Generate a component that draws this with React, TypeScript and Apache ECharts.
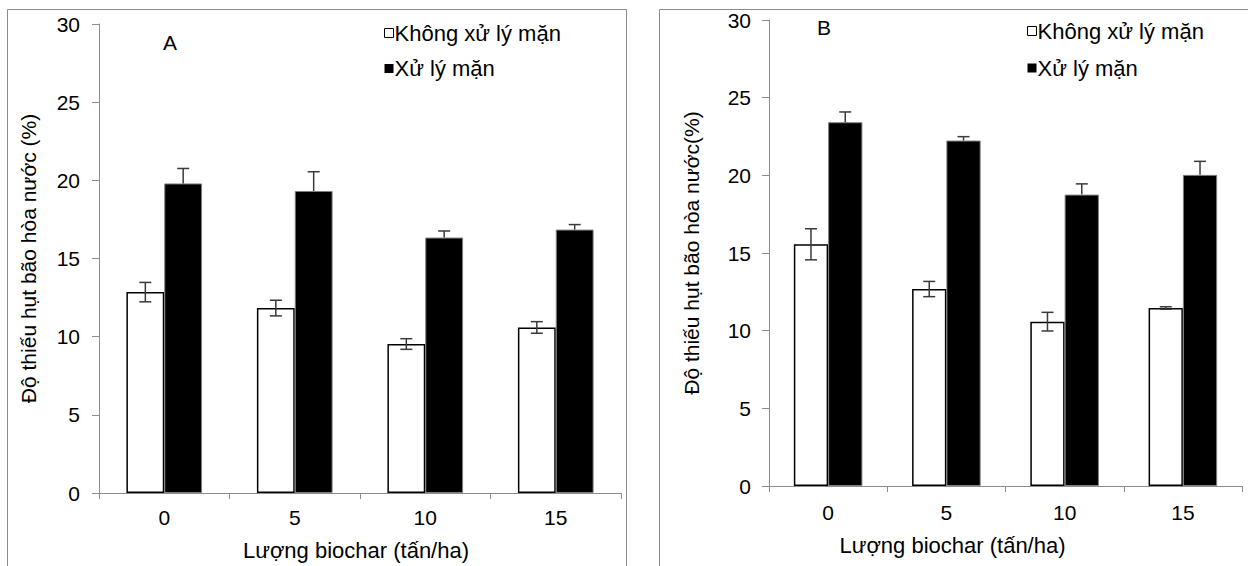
import React, { useEffect, useRef } from "react";
import * as echarts from "echarts";

const categories = ["0", "5", "10", "15"];
const seriesNames = ["Không xử lý mặn", "Xử lý mặn"];

// Panel A
const aControl = [12.85, 11.83, 9.53, 10.59];
const aControlErr = [0.62, 0.5, 0.34, 0.37];
const aSalt = [19.8, 19.32, 16.34, 16.85];
const aSaltErr = [0.96, 1.23, 0.42, 0.32];

// Panel B
const bControl = [15.56, 12.68, 10.58, 11.46];
const bControlErr = [1.0, 0.49, 0.6, 0.08];
const bSalt = [23.42, 22.24, 18.76, 20.03];
const bSaltErr = [0.66, 0.25, 0.69, 0.87];

const yTicks = [0, 5, 10, 15, 20, 25, 30];

const FONT = "Liberation Sans, Arial, sans-serif";
const BAR_RATIO = 0.29;

function errSeries(gridIdx: number, values: number[], errs: number[], side: number, both: boolean) {
  return {
    type: "custom",
    xAxisIndex: gridIdx,
    yAxisIndex: gridIdx,
    z: 5,
    silent: true,
    encode: { x: 0, y: 1 },
    data: values.map((v, i) => [i, v, errs[i]]),
    renderItem: (params: any, api: any) => {
      const idx = api.value(0);
      const v = api.value(1);
      const e = api.value(2);
      const catW = api.size([1, 0])[0];
      const off = (catW * BAR_RATIO) / 2 * side;
      const base = api.coord([idx, v]);
      const x = base[0] + off;
      const yTop = api.coord([idx, v + e])[1];
      const yBot = both ? api.coord([idx, v - e])[1] : base[1];
      const cap = 6;
      const st = { stroke: "#3a3a3a", lineWidth: 1.5 };
      const children: any[] = [
        { type: "line", shape: { x1: x, y1: yTop, x2: x, y2: yBot }, style: st },
        { type: "line", shape: { x1: x - cap, y1: yTop, x2: x + cap, y2: yTop }, style: st },
      ];
      if (both) {
        children.push({ type: "line", shape: { x1: x - cap, y1: yBot, x2: x + cap, y2: yBot }, style: st });
      }
      return { type: "group", children };
    },
  };
}

function barSeries(gridIdx: number, name: string, values: number[], black: boolean) {
  return {
    type: "bar",
    name,
    xAxisIndex: gridIdx,
    yAxisIndex: gridIdx,
    data: values,
    barWidth: BAR_RATIO * 100 + "%",
    barGap: "0%",
    itemStyle: black
      ? { color: "#000000", borderColor: "#808080", borderWidth: 1 }
      : { color: "#ffffff", borderColor: "#000000", borderWidth: 1.5 },
  };
}

function xAxis(gridIdx: number, nameGap: number, labelMargin: number, namePad: number[]) {
  return {
    type: "category",
    gridIndex: gridIdx,
    data: categories,
    name: "Lượng biochar (tấn/ha)",
    nameLocation: "middle",
    nameGap,
    nameTextStyle: { fontFamily: FONT, fontSize: 22, color: "#000", padding: namePad },
    axisLine: { lineStyle: { color: "#8c8c8c", width: 1 } },
    axisTick: { show: true, length: 6, lineStyle: { color: "#8c8c8c" } },
    axisLabel: { fontFamily: FONT, fontSize: 21, color: "#000", margin: labelMargin },
    splitLine: { show: false },
  };
}

function yAxis(gridIdx: number, name: string, nameGap: number, labelMargin: number) {
  return {
    type: "value",
    gridIndex: gridIdx,
    min: 0,
    max: 30,
    interval: 5,
    name,
    nameLocation: "middle",
    nameGap,
    nameTextStyle: { fontFamily: FONT, fontSize: 21, color: "#000" },
    axisLine: { show: true, lineStyle: { color: "#8c8c8c", width: 1 } },
    axisTick: { show: true, length: 7, lineStyle: { color: "#8c8c8c" } },
    axisLabel: {
      fontFamily: FONT,
      fontSize: 21,
      color: "#000",
      margin: labelMargin,
      formatter: (v: number) => (yTicks.indexOf(v) >= 0 ? String(v) : ""),
    },
    splitLine: { show: false },
  };
}

function legend(left: number, top: number, gap: number) {
  return {
    left,
    top,
    padding: 0,
    orient: "vertical",
    itemWidth: 9,
    itemHeight: 9,
    itemGap: gap,
    icon: "rect",
    textStyle: { fontFamily: FONT, fontSize: 22, color: "#000", lineHeight: 22, padding: [0, 0, 0, -4] },
    data: [
      { name: seriesNames[0], itemStyle: { color: "#fff", borderColor: "#000", borderWidth: 1 } },
      { name: seriesNames[1], itemStyle: { color: "#000", borderColor: "#000", borderWidth: 0 } },
    ],
    selectedMode: false,
  };
}

export default function App() {
  const ref = useRef<HTMLDivElement>(null);
  useEffect(() => {
    document.body.style.margin = "0";
    const chart = echarts.init(ref.current!, null, { renderer: "svg" });
    chart.setOption({
      animation: false,
      backgroundColor: "#ffffff",
      grid: [
        { left: 99, top: 24, width: 522, height: 470 },
        { left: 769, top: 20, width: 473, height: 466 },
      ],
      xAxis: [xAxis(0, 46, 14, [0, 8, 0, 0]), xAxis(1, 48, 16, [0, 106, 0, 0])],
      yAxis: [
        yAxis(0, "Độ thiếu hụt bão hòa nước (%)", 60, 19),
        yAxis(1, "Độ thiếu hụt bão hòa nước(%)", 67, 18),
      ],
      legend: [legend(384, 22, 13.5), legend(1027, 20, 15)],
      graphic: [
        { type: "rect", shape: { x: 7.5, y: 9.5, width: 619, height: 620 }, style: { fill: "none", stroke: "#8c8c8c", lineWidth: 1 }, z: -1 },
        { type: "rect", shape: { x: 659.5, y: 9.5, width: 700, height: 620 }, style: { fill: "none", stroke: "#8c8c8c", lineWidth: 1 }, z: -1 },
        { type: "text", x: 170, y: 42, style: { text: "A", fontFamily: FONT, fontSize: 21, fill: "#000", textAlign: "center", textVerticalAlign: "middle" } },
        { type: "text", x: 824, y: 27, style: { text: "B", fontFamily: FONT, fontSize: 21, fill: "#000", textAlign: "center", textVerticalAlign: "middle" } },
      ],
      series: [
        barSeries(0, seriesNames[0], aControl, false),
        barSeries(0, seriesNames[1], aSalt, true),
        barSeries(1, seriesNames[0], bControl, false),
        barSeries(1, seriesNames[1], bSalt, true),
        errSeries(0, aControl, aControlErr, -1, true),
        errSeries(0, aSalt, aSaltErr, 1, false),
        errSeries(1, bControl, bControlErr, -1, true),
        errSeries(1, bSalt, bSaltErr, 1, false),
      ],
    });
    return () => chart.dispose();
  }, []);
  return <div ref={ref} style={{ width: 1248, height: 566 }} />;
}
